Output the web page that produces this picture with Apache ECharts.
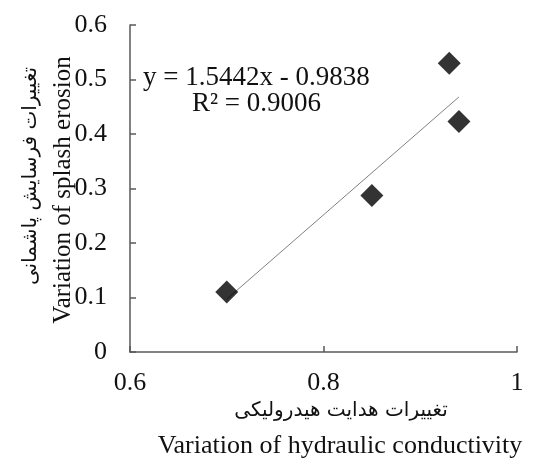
<!DOCTYPE html>
<html>
<head>
<meta charset="utf-8">
<style>
html, body { margin: 0; width: 100%; height: 100%; background: #fff; }
#chart { width: 537px; height: 464px; }
</style>
<script src="https://cdn.jsdelivr.net/npm/echarts@6/dist/echarts.min.js"></script>
</head>
<body>
<div id="chart"></div>
<script>
// measured points
var xValues = [0.70, 0.85, 0.93, 0.94];
var yValues = [0.110, 0.287, 0.530, 0.423];
// linear trend line ends (y = 1.5442x - 0.9838)
var trendX = [0.70, 0.94];
var trendY = [0.097, 0.468];

var serif = '"Liberation Serif", "Times New Roman", serif';
var persian = '"DejaVu Sans", sans-serif';
var axisColor = '#595959';

var chart = echarts.init(document.getElementById('chart'));

var option = {
    animation: false,
    grid: { left: 130, right: 20, top: 25, bottom: 112 },
    xAxis: {
        type: 'value',
        min: 0.6,
        max: 1,
        interval: 0.2,
        axisLine: { show: true, lineStyle: { color: axisColor, width: 1.5 } },
        axisTick: { show: true, inside: true, length: 6, lineStyle: { color: axisColor, width: 1.5 } },
        splitLine: { show: false },
        axisLabel: {
            color: '#111', fontFamily: serif, fontSize: 26, margin: 18,
            formatter: function (v) { return String(+v.toFixed(2)); }
        }
    },
    yAxis: {
        type: 'value',
        min: 0,
        max: 0.6,
        interval: 0.1,
        axisLine: { show: true, lineStyle: { color: axisColor, width: 1.5 } },
        axisTick: { show: true, inside: true, length: 6, lineStyle: { color: axisColor, width: 1.5 } },
        splitLine: { show: false },
        axisLabel: {
            color: '#111', fontFamily: serif, fontSize: 26, margin: 23,
            formatter: function (v) { return String(+v.toFixed(2)); }
        }
    },
    series: [{
        type: 'line',
        data: trendX.map(function (x, i) { return [x, trendY[i]]; }),
        showSymbol: false,
        lineStyle: { color: '#808080', width: 1 },
        z: 1
    }, {
        type: 'scatter',
        data: xValues.map(function (x, i) { return [x, yValues[i]]; }),
        symbol: 'diamond',
        symbolSize: 23,
        itemStyle: { color: '#000' },
        z: 2
    }],
    graphic: [{
        type: 'text', left: 143, top: 64,
        style: { text: 'y = 1.5442x - 0.9838', font: '27px ' + serif, fill: '#111' }
    }, {
        type: 'text', left: 192, top: 90,
        style: { text: 'R² = 0.9006', font: '27px ' + serif, fill: '#111' }
    }, {
        type: 'text', x: 63, y: 190, rotation: Math.PI / 2,
        style: { text: 'Variation of splash erosion', font: '25px ' + serif, fill: '#111', align: 'center', verticalAlign: 'middle' }
    }, {
        type: 'text', x: 31, y: 176, rotation: Math.PI / 2,
        style: { text: 'تغییرات فرسایش پاشمانی', font: '20px ' + persian, fill: '#111', align: 'center', verticalAlign: 'middle' }
    }, {
        type: 'text', x: 341, y: 411,
        style: { text: 'تغییرات هدایت هیدرولیکی', font: '20px ' + persian, fill: '#111', align: 'center', verticalAlign: 'middle' }
    }, {
        type: 'text', x: 340, y: 446,
        style: { text: 'Variation of hydraulic conductivity', font: '26px ' + serif, fill: '#111', align: 'center', verticalAlign: 'middle' }
    }]
};

chart.setOption(option);
</script>
</body>
</html>
